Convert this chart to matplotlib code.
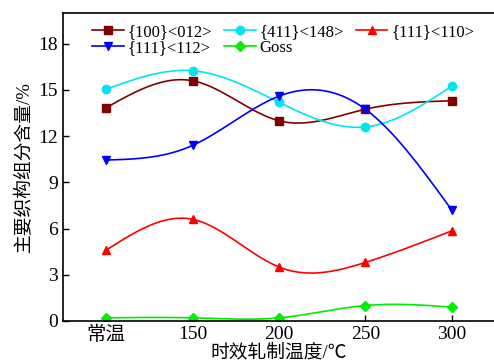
import numpy as np
import matplotlib
matplotlib.use("Agg")
import matplotlib.pyplot as plt
from matplotlib.lines import Line2D

categories = ["常温", "150", "200", "250", "300"]
s100_012 = [13.85, 15.6, 13.0, 13.75, 14.3]
s411_148 = [15.05, 16.25, 14.2, 12.6, 15.25]
s111_110 = [4.6, 6.6, 3.5, 3.8, 5.85]
s111_112 = [10.45, 11.4, 14.6, 13.75, 7.2]
goss = [0.2, 0.2, 0.2, 1.0, 0.9]

series = [
    ("{100}<012>", s100_012, "#800000", "s"),
    ("{411}<148>", s411_148, "#00e5ee", "o"),
    ("{111}<110>", s111_110, "#ff0000", "^"),
    ("{111}<112>", s111_112, "#0000ff", "v"),
    ("Goss", goss, "#00ee00", "D"),
]


def natural_spline(x, y, n=200):
    x = np.asarray(x, float); y = np.asarray(y, float)
    m = len(x); h = np.diff(x)
    A = np.zeros((m, m)); b = np.zeros(m)
    A[0, 0] = A[-1, -1] = 1
    for i in range(1, m - 1):
        A[i, i - 1] = h[i - 1]; A[i, i] = 2 * (h[i - 1] + h[i]); A[i, i + 1] = h[i]
        b[i] = 3 * ((y[i + 1] - y[i]) / h[i] - (y[i] - y[i - 1]) / h[i - 1])
    c = np.linalg.solve(A, b)
    xs = np.linspace(x[0], x[-1], n); ys = np.empty_like(xs)
    for k, xv in enumerate(xs):
        i = min(np.searchsorted(x, xv, side="right") - 1, m - 2)
        dx = xv - x[i]
        bi = (y[i + 1] - y[i]) / h[i] - h[i] * (2 * c[i] + c[i + 1]) / 3
        di = (c[i + 1] - c[i]) / (3 * h[i])
        ys[k] = y[i] + bi * dx + c[i] * dx ** 2 + di * dx ** 3
    return xs, ys


plt.rcParams["font.family"] = ["Liberation Serif", "Noto Sans CJK SC"]
fig = plt.figure(figsize=(4.94, 3.61), dpi=100)
ax = fig.add_axes([0.1275, 0.111, 0.8745, 0.853])

x = np.arange(len(categories))
handles = {}
for name, vals, col, mk in series:
    xs, ys = natural_spline(x, vals)
    ax.plot(xs, ys, color=col, lw=1.2)
    ms = 6 if mk != "D" else 5
    ax.plot(x, vals, linestyle="none", marker=mk, color=col, ms=ms)
    handles[name] = Line2D([], [], color=col, lw=1.2, marker=mk, ms=ms)

ax.set_xlim(-0.5, 4.5)
ax.set_ylim(0, 20)
ax.set_xticks(x)
ax.set_xticklabels(categories)
ax.set_yticks([0, 3, 6, 9, 12, 15, 18])
ax.tick_params(direction="in", labelsize=14, length=4, width=1)
for sp in ax.spines.values():
    sp.set_linewidth(1.2)

ax.set_xlabel("时效轧制温度/℃", fontsize=13.5, labelpad=0)
ax.set_ylabel("主要织构组分含量/%", fontsize=13.5, labelpad=4)

order = ["{100}<012>", "{111}<112>", "{411}<148>", "Goss", "{111}<110>"]
ax.legend([handles[k] for k in order], order, ncol=3, frameon=False,
          loc="upper left", bbox_to_anchor=(0.067, 0.965), fontsize=12,
          handlelength=1.9, handletextpad=0.25, columnspacing=0.7,
          labelspacing=0.0, borderaxespad=0.0, borderpad=0.0)

fig.savefig("out.png", dpi=100)
